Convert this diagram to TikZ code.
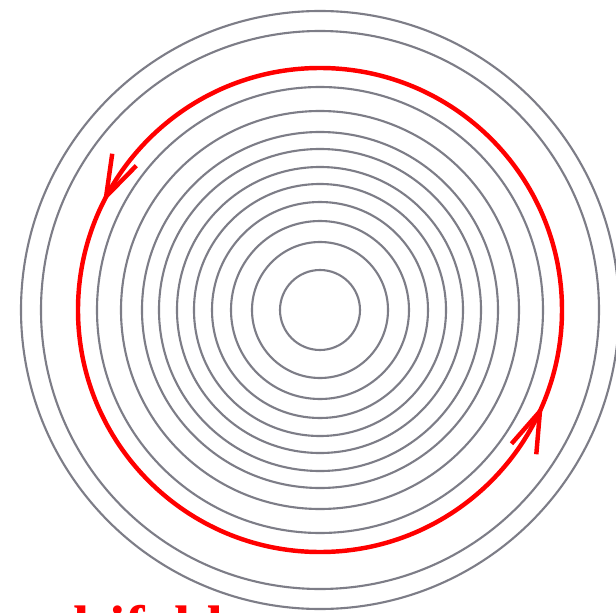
\documentclass[tikz,border=0pt]{standalone}
\usepackage{fontspec}
\setmainfont{Liberation Serif}
\usepackage{xcolor}
\usetikzlibrary{arrows.meta, decorations.markings}

\definecolor{levelgray}{RGB}{125,125,135}

\begin{document}
\begin{tikzpicture}[x=0.03cm, y=0.03cm,
    level/.style={draw=levelgray, line width=1.8pt},
    orbit/.style={draw=red, line width=3.8pt, postaction={decorate},
      decoration={markings,
        mark=at position 0.427 with {\arrow{Straight Barb[length=35pt, width=23pt]}},
        mark=at position 0.936 with {\arrow{Straight Barb[length=35pt, width=23pt]}}}}]
    % Frame  (centre of the rings at the origin)
    \fill[white] (-320,-302) rectangle (296,310);
    \useasboundingbox (-320,-302) rectangle (296,310);
    \coordinate (centre) at (0,0);

    % Level curves
    \foreach \r in {40,68,89,108,126,143,161,178,199,223,279,299}
        \draw[level] (centre) circle[radius=\r];

    % Closed orbit, running counterclockwise
    \draw[orbit] (centre) circle[radius=242];

    % Label, cut by the lower edge
    \node[font=\fontsize{50}{52}\selectfont\bfseries, text=red, anchor=base west, inner sep=0pt]
        (caption) at (-328,-336) {multifold};
\end{tikzpicture}
\end{document}
